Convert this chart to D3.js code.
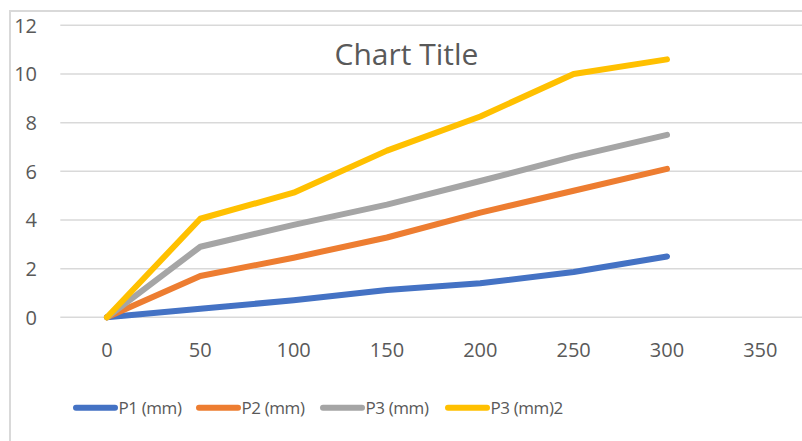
<!DOCTYPE html>
<html>
<head>
<meta charset="utf-8">
<script src="https://cdn.jsdelivr.net/npm/d3@7"></script>
<style>
  html, body { margin: 0; padding: 0; background: #fff; }
  svg { display: block; }
  text { font-family: "Open Sans", "Noto Sans", sans-serif; fill: #595959; }
</style>
</head>
<body>
<svg id="chart" width="802" height="441"></svg>
<script>
// Category labels along the x axis (the last one carries no data)
const categories = ["0", "50", "100", "150", "200", "250", "300", "350"];
const yTicks = [0, 2, 4, 6, 8, 10, 12];

// Series values per category
const p1 = [0, 0.35, 0.7, 1.12, 1.4, 1.86, 2.5];
const p2 = [0, 1.7, 2.45, 3.28, 4.3, 5.2, 6.1];
const p3 = [0, 2.9, 3.8, 4.63, 5.6, 6.6, 7.5];
const p3b = [0, 4.05, 5.12, 6.85, 8.25, 10.0, 10.6];

const seriesNames = ["P1 (mm)", "P2 (mm)", "P3 (mm)", "P3 (mm)2"];
const seriesColors = ["#4472C4", "#ED7D31", "#A5A5A5", "#FFC000"];
const seriesValues = [p1, p2, p3, p3b];

const svg = d3.select("#chart");

// Chart area frame
svg.append("rect")
  .attr("x", 10).attr("y", 11)
  .attr("width", 900).attr("height", 600)
  .attr("fill", "#fff")
  .attr("stroke", "#D9D9D9")
  .attr("stroke-width", 2);

const x = d3.scaleBand().domain(categories).range([60.3, 807]).padding(0);
const y = d3.scaleLinear().domain([0, 12]).range([317.3, 25.3]);
const cx = c => x(c) + x.bandwidth() / 2;

// Horizontal gridlines
svg.append("g")
  .selectAll("line")
  .data(yTicks)
  .join("line")
  .attr("x1", 60.3).attr("x2", 807)
  .attr("y1", d => y(d)).attr("y2", d => y(d))
  .attr("stroke", "#D9D9D9")
  .attr("stroke-width", 1.5);

// Y axis labels
svg.append("g")
  .selectAll("text")
  .data(yTicks)
  .join("text")
  .attr("x", 37)
  .attr("y", d => y(d) + 7.3)
  .attr("text-anchor", "end")
  .attr("font-size", 20)
  .text(d => d);

// X axis labels
svg.append("g")
  .selectAll("text")
  .data(categories)
  .join("text")
  .attr("x", d => cx(d))
  .attr("y", 356.5)
  .attr("text-anchor", "middle")
  .attr("font-size", 20)
  .text(d => d);

// Title
svg.append("text")
  .attr("x", 406.5)
  .attr("y", 65)
  .attr("text-anchor", "middle")
  .attr("font-size", 30)
  .text("Chart Title");

// Series lines
const line = d3.line()
  .x((d, i) => cx(categories[i]))
  .y(d => y(d));

svg.append("g")
  .selectAll("path")
  .data(seriesValues)
  .join("path")
  .attr("d", d => line(d))
  .attr("fill", "none")
  .attr("stroke", (d, i) => seriesColors[i])
  .attr("stroke-width", 6)
  .attr("stroke-linecap", "round")
  .attr("stroke-linejoin", "round");

// Legend
const legendX = [76, 199, 323, 448];
const legend = svg.append("g")
  .selectAll("g")
  .data(seriesNames)
  .join("g")
  .attr("transform", (d, i) => `translate(${legendX[i]},407.7)`);

legend.append("line")
  .attr("x1", 0).attr("x2", 39)
  .attr("y1", 0).attr("y2", 0)
  .attr("stroke", (d, i) => seriesColors[i])
  .attr("stroke-width", 6)
  .attr("stroke-linecap", "round");

legend.append("text")
  .attr("x", 42.5)
  .attr("y", 6.2)
  .attr("font-size", 17)
  .attr("letter-spacing", -0.4)
  .text(d => d);
</script>
</body>
</html>
